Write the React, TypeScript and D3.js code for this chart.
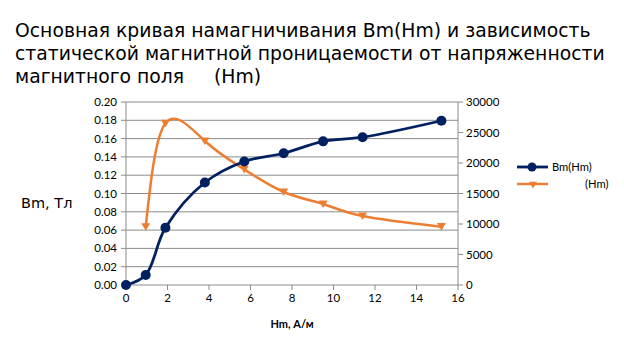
import React from "react";
import * as d3 from "d3";

const hm = [0, 0.95, 1.9, 3.8, 5.7, 7.6, 9.5, 11.4, 15.2];
const bm = [0, 0.011, 0.0625, 0.112, 0.135, 0.144, 0.157, 0.1615, 0.1795];
const muH = [0.95, 1.9, 3.8, 5.7, 7.6, 9.5, 11.4, 15.2];
const mu = [9550, 26500, 23600, 18950, 15250, 13280, 11310, 9560];
const xTicks = [0, 2, 4, 6, 8, 10, 12, 14, 16];
const yTicks = [0, 0.02, 0.04, 0.06, 0.08, 0.1, 0.12, 0.14, 0.16, 0.18, 0.2];
const y2Ticks = [0, 5000, 10000, 15000, 20000, 25000, 30000];
const titleLines = [
  "Основная кривая намагничивания Bm(Hm) и зависимость",
  "статической магнитной проницаемости от напряженности",
  "магнитного поля     (Hm)",
];

const BLUE = "#002060";
const ORANGE = "#ED7D31";
const GRID = "#8c8c8c";

export default function App() {
  const x = d3.scaleLinear().domain([0, 16]).range([126, 458]);
  const y = d3.scaleLinear().domain([0, 0.2]).range([285, 102]);
  const y2 = d3.scaleLinear().domain([0, 30000]).range([285, 102]);

  const blueLine = d3
    .line<number>()
    .x((_, i) => x(hm[i]))
    .y((d) => y(d))
    .curve(d3.curveCatmullRom.alpha(0.5));
  const orangeLine = d3
    .line<number>()
    .x((_, i) => x(muH[i]))
    .y((d) => y2(d))
    .curve(d3.curveNatural);

  const tri = (cx: number, cy: number, s: number) =>
    `M${cx - s},${cy - s * 0.8}L${cx + s},${cy - s * 0.8}L${cx},${cy + s * 0.9}Z`;

  const tickFont = "Lato, 'Liberation Sans', sans-serif";

  return (
    <svg
      width={624}
      height={352}
      style={{ position: "absolute", left: 0, top: 0, background: "#fff" }}
    >
      <rect width={624} height={352} fill="#fff" />
      {titleLines.map((t, i) => (
        <text
          key={i}
          x={15}
          y={37 + i * 23}
          fontFamily="'DejaVu Sans', sans-serif"
          fontSize={18.8}
          fill="#000"
          style={{ whiteSpace: "pre" }}
        >
          {t}
        </text>
      ))}

      {yTicks.map((t) => (
        <line key={"g" + t} x1={x(0)} x2={x(16)} y1={y(t)} y2={y(t)} stroke={GRID} strokeWidth={1} />
      ))}
      <line x1={x(0)} x2={x(0)} y1={y(0)} y2={y(0.2)} stroke={GRID} />
      <line x1={x(16)} x2={x(16)} y1={y(0)} y2={y(0.2)} stroke={GRID} />
      {yTicks.map((t) => (
        <line key={"lt" + t} x1={x(0) - 5} x2={x(0)} y1={y(t)} y2={y(t)} stroke={GRID} />
      ))}
      {y2Ticks.map((t) => (
        <line key={"rt" + t} x1={x(16)} x2={x(16) + 5} y1={y2(t)} y2={y2(t)} stroke={GRID} />
      ))}
      {xTicks.map((t) => (
        <line key={"xt" + t} x1={x(t)} x2={x(t)} y1={y(0)} y2={y(0) + 5} stroke={GRID} />
      ))}

      {yTicks.map((t) => (
        <text
          key={"yl" + t}
          x={117}
          y={y(t) + 4}
          textAnchor="end"
          fontFamily={tickFont}
          fontSize={11.5}
          fill="#000"
        >
          {t.toFixed(2)}
        </text>
      ))}
      {y2Ticks.map((t) => (
        <text
          key={"y2l" + t}
          x={466}
          y={y2(t) + 4}
          textAnchor="start"
          fontFamily={tickFont}
          fontSize={11.5}
          fill="#000"
        >
          {t}
        </text>
      ))}
      {xTicks.map((t) => (
        <text
          key={"xl" + t}
          x={x(t)}
          y={302}
          textAnchor="middle"
          fontFamily={tickFont}
          fontSize={11.5}
          fill="#000"
        >
          {t}
        </text>
      ))}

      <text x={292} y={328} textAnchor="middle" fontFamily={tickFont} fontWeight="bold" fontSize={11} fill="#000">
        Hm, А/м
      </text>
      <text x={21} y={208} fontFamily="'DejaVu Sans', sans-serif" fontSize={14.5} fill="#000">
        Bm, Тл
      </text>

      <path d={orangeLine(mu) || ""} fill="none" stroke={ORANGE} strokeWidth={2.5} />
      {mu.map((v, i) => (
        <path key={"m" + i} d={tri(x(muH[i]), y2(v), 4.5)} fill={ORANGE} />
      ))}
      <path d={blueLine(bm) || ""} fill="none" stroke={BLUE} strokeWidth={2.8} />
      {bm.map((v, i) => (
        <circle key={"b" + i} cx={x(hm[i])} cy={y(v)} r={5} fill={BLUE} />
      ))}

      <line x1={517} x2={548} y1={167} y2={167} stroke={BLUE} strokeWidth={2.8} />
      <circle cx={532} cy={167} r={4.5} fill={BLUE} />
      <text x={552} y={171} fontFamily={tickFont} fontSize={11.2} fill="#000">
        Bm(Hm)
      </text>
      <line x1={517} x2={548} y1={184} y2={184} stroke={ORANGE} strokeWidth={2.5} />
      <path d={tri(533, 185, 4)} fill={ORANGE} />
      <text x={585} y={188} fontFamily={tickFont} fontSize={11.2} fill="#000">
        (Hm)
      </text>
    </svg>
  );
}
